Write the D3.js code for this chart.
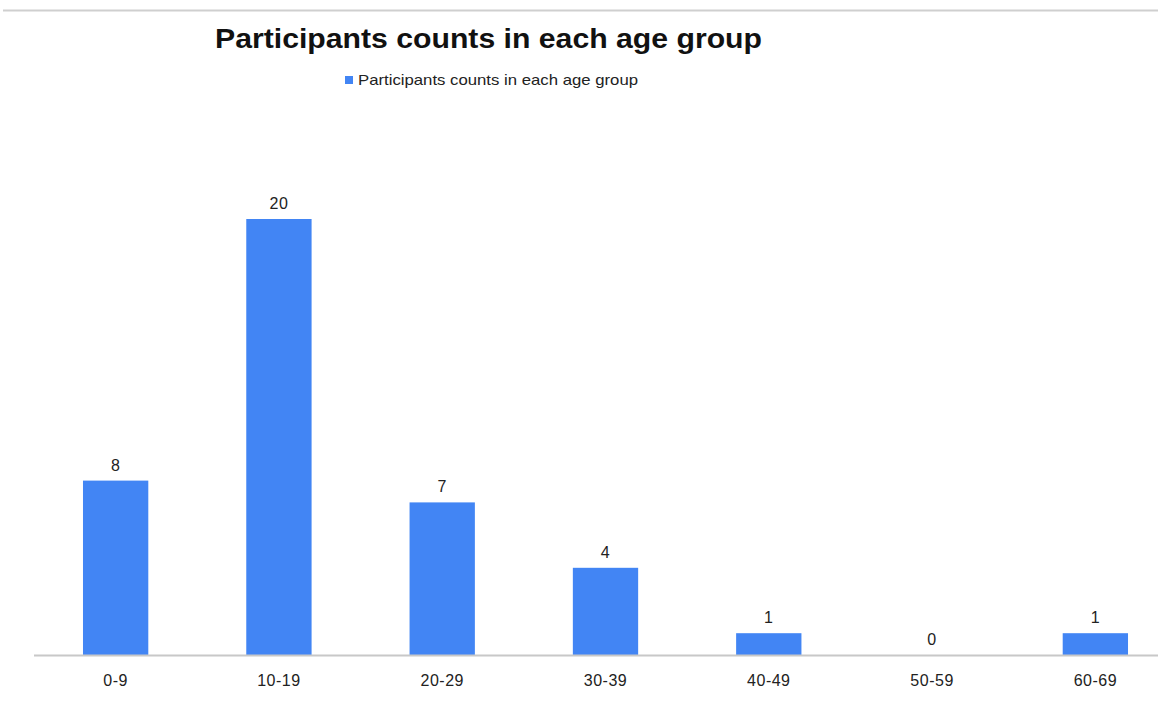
<!DOCTYPE html>
<html>
<head>
<meta charset="utf-8">
<script src="https://cdn.jsdelivr.net/npm/d3@7"></script>
<style>
  html, body { margin: 0; padding: 0; background: #fff; }
  svg { display: block; font-family: "Liberation Sans", Arial, sans-serif; }
</style>
</head>
<body>
<div id="chart--wrapper"></div>
<script>
// データ
const categories = ['0-9', '10-19', '20-29', '30-39', '40-49', '50-59', '60-69'];
const counts = [8, 20, 7, 4, 1, 0, 1];
const seriesName = 'Participants counts in each age group';
const titleText = 'Participants counts in each age group';

const width = 1158;
const height = 703;
const color = '#4285f4';

const svg = d3.select('#chart--wrapper').append('svg')
  .attr('width', width)
  .attr('height', height);

// 上部の区切り線
svg.append('line')
  .attr('x1', 3).attr('x2', width)
  .attr('y1', 10.5).attr('y2', 10.5)
  .attr('stroke', '#cfcfcf')
  .attr('stroke-width', 2);

const data = categories.map(function (c, i) {
  return { cat: c, value: counts[i] };
});

// X軸
const xScale = d3.scaleBand()
  .domain(categories)
  .range([34, 1177])
  .paddingInner(0.6)
  .paddingOuter(0.3);

// Y軸
const yScale = d3.scaleLinear()
  .domain([0, 20])
  .range([655, 219]);

// バー
svg.append('g')
  .selectAll('rect')
  .data(data)
  .join('rect')
  .attr('x', function (d) { return xScale(d.cat); })
  .attr('y', function (d) { return yScale(d.value); })
  .attr('width', xScale.bandwidth())
  .attr('height', function (d) { return yScale(0) - yScale(d.value); })
  .attr('fill', color);

// 値ラベル
svg.append('g')
  .selectAll('text')
  .data(data)
  .join('text')
  .attr('x', function (d) { return xScale(d.cat) + xScale.bandwidth() / 2; })
  .attr('y', function (d) { return yScale(d.value) - 10; })
  .attr('text-anchor', 'middle')
  .attr('font-size', 16)
  .attr('letter-spacing', 0.5)
  .attr('fill', '#222')
  .text(function (d) { return d.value; });

// X軸の描画
const axisX = svg.append('g')
  .attr('transform', 'translate(0,' + yScale(0) + ')')
  .call(d3.axisBottom(xScale).tickSize(0).tickPadding(20));

axisX.select('.domain')
  .attr('d', 'M34,0.5H' + width)
  .attr('stroke', '#c8c8c8')
  .attr('stroke-width', 2);

axisX.selectAll('text')
  .attr('font-size', 16)
  .attr('letter-spacing', 0.5)
  .attr('font-family', '"Liberation Sans", Arial, sans-serif')
  .attr('fill', '#222');

// タイトル
svg.append('text')
  .attr('x', 215)
  .attr('y', 48)
  .attr('font-size', 28)
  .attr('font-weight', 'bold')
  .attr('fill', '#111')
  .attr('textLength', 547)
  .attr('lengthAdjust', 'spacingAndGlyphs')
  .text(titleText);

// 凡例
const legend = svg.append('g').attr('transform', 'translate(345,80)');
legend.append('rect')
  .attr('x', 0).attr('y', -4)
  .attr('width', 8).attr('height', 8)
  .attr('fill', color);
legend.append('text')
  .attr('x', 13)
  .attr('y', 5)
  .attr('font-size', 15)
  .attr('fill', '#222')
  .attr('textLength', 280)
  .attr('lengthAdjust', 'spacingAndGlyphs')
  .text(seriesName);
</script>
</body>
</html>
